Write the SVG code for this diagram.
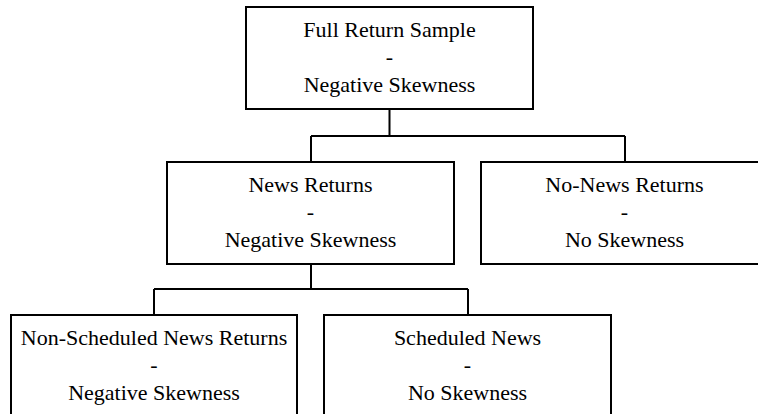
<svg xmlns="http://www.w3.org/2000/svg" width="758" height="414" viewBox="0 0 758 414">
<style>
.box{fill:#fff;stroke:#000;stroke-width:2}
.lbl{font-family:"Liberation Serif","Times New Roman",serif;font-size:22px;fill:#000;text-anchor:middle}
.conn{fill:none;stroke:#000;stroke-width:2}
</style>
<rect width="758" height="414" fill="#fff"/>
<g id="connectors" class="conn">
<path d="M389.5 109 V136 M311 136 H625 M311 136 V162 M625 136 V162"/>
<path d="M311 264 V289 M154 289 H468 M154 289 V315 M468 289 V315"/>
</g>
<g id="full">
<rect class="box" x="246" y="7" width="287" height="102"/>
<text class="lbl" x="389.5" y="36.5">Full Return Sample</text>
<text class="lbl" x="389.5" y="64">-</text>
<text class="lbl" x="389.5" y="91.5">Negative Skewness</text>
</g>
<g id="news">
<rect class="box" x="167" y="162" width="287" height="102"/>
<text class="lbl" x="310.5" y="191.5">News Returns</text>
<text class="lbl" x="310.5" y="219">-</text>
<text class="lbl" x="310.5" y="246.5">Negative Skewness</text>
</g>
<g id="nonews">
<rect class="box" x="481" y="162" width="287" height="102"/>
<text class="lbl" x="624.5" y="191.5">No-News Returns</text>
<text class="lbl" x="624.5" y="219">-</text>
<text class="lbl" x="624.5" y="246.5">No Skewness</text>
</g>
<g id="nonsched">
<rect class="box" x="11" y="315" width="286" height="102"/>
<text class="lbl" x="154" y="344.5">Non-Scheduled News Returns</text>
<text class="lbl" x="154" y="372">-</text>
<text class="lbl" x="154" y="399.5">Negative Skewness</text>
</g>
<g id="sched">
<rect class="box" x="324" y="315" width="287" height="102"/>
<text class="lbl" x="467.5" y="344.5">Scheduled News</text>
<text class="lbl" x="467.5" y="372">-</text>
<text class="lbl" x="467.5" y="399.5">No Skewness</text>
</g>
</svg>
